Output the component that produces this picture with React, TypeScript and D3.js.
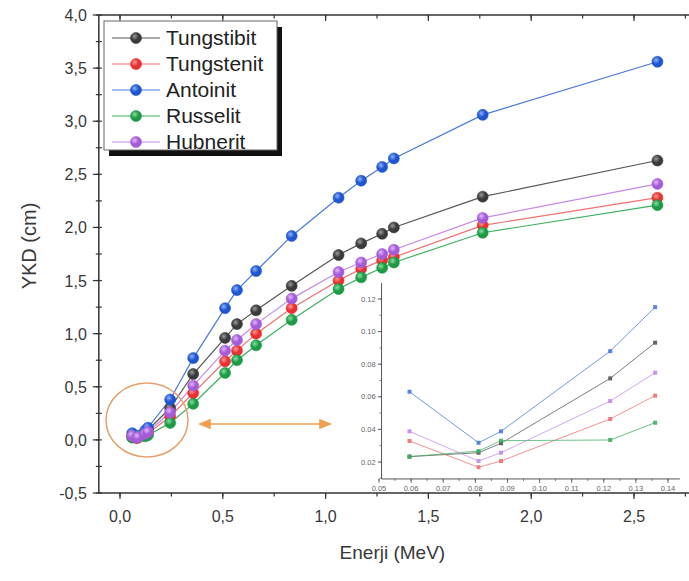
import React from 'react'
import { scaleLinear, line, range } from 'd3'

// gamma energies (MeV) of the measured points
const energies = [0.0595, 0.081, 0.088, 0.122, 0.136, 0.244, 0.356, 0.511, 0.569, 0.662, 0.835, 1.063, 1.173, 1.275, 1.332, 1.764, 2.614]

// YKD (cm) per mineral
const tungstibit = [0.0233, 0.0257, 0.0315, 0.0713, 0.0932, 0.30, 0.62, 0.96, 1.09, 1.22, 1.45, 1.74, 1.85, 1.94, 2.00, 2.29, 2.63]
const tungstenit = [0.0329, 0.0168, 0.0206, 0.0464, 0.0607, 0.22, 0.44, 0.74, 0.84, 1.00, 1.24, 1.50, 1.61, 1.69, 1.72, 2.02, 2.28]
const antoinit = [0.0631, 0.0318, 0.0388, 0.088, 0.115, 0.38, 0.77, 1.24, 1.41, 1.59, 1.92, 2.28, 2.44, 2.57, 2.65, 3.06, 3.56]
const russelit = [0.0233, 0.0267, 0.0331, 0.0335, 0.0441, 0.16, 0.34, 0.63, 0.75, 0.89, 1.13, 1.42, 1.53, 1.62, 1.67, 1.95, 2.21]
const hubnerit = [0.0388, 0.0206, 0.0257, 0.0574, 0.0748, 0.26, 0.51, 0.84, 0.94, 1.09, 1.33, 1.58, 1.67, 1.75, 1.79, 2.09, 2.41]

const xTicks = [0, 0.5, 1.0, 1.5, 2.0, 2.5]
const yTicks = [-0.5, 0, 0.5, 1.0, 1.5, 2.0, 2.5, 3.0, 3.5, 4.0]
const insetXTicks = [0.05, 0.06, 0.07, 0.08, 0.09, 0.10, 0.11, 0.12, 0.13, 0.14]
const insetYTicks = [0.02, 0.04, 0.06, 0.08, 0.10, 0.12]
const insetCount = 5

const series = [
  { name: 'Tungstibit', values: tungstibit, fill: '#3a3a3a', light: '#9a9a9a', stroke: '#555555' },
  { name: 'Tungstenit', values: tungstenit, fill: '#e8302f', light: '#ff9a9a', stroke: '#f07070' },
  { name: 'Antoinit', values: antoinit, fill: '#1f55d0', light: '#8fb0ff', stroke: '#4a78dc' },
  { name: 'Russelit', values: russelit, fill: '#1d9a45', light: '#86e0a0', stroke: '#3fb060' },
  { name: 'Hubnerit', values: hubnerit, fill: '#a55ad8', light: '#e2b8ff', stroke: '#c58ae8' },
]

const fmt = (v: number, d: number) => v.toFixed(d).replace('.', ',')

export default function App() {
  const W = 689, H = 581
  const x = scaleLinear().domain([0, 2.5]).range([120, 634])
  const y = scaleLinear().domain([-0.5, 4.0]).range([493, 15])
  const left = x(-0.103), right = 689, top = y(4.0), bottom = y(-0.5)

  const xi = scaleLinear().domain([0.05, 0.14]).range([379, 668])
  const yi = scaleLinear().domain([0.02, 0.12]).range([462, 299])
  const iLeft = xi(0.0508), iRight = xi(0.1437), iTop = yi(0.1298), iBottom = yi(0.0096)

  const mainLine = line<number>().x((_, i) => x(energies[i])).y(d => y(d))
  const insetLine = line<number>().x((_, i) => xi(energies[i])).y(d => yi(d))

  const font = 'Liberation Sans, Arial, sans-serif'
  const minorX = range(-0.0, 2.76, 0.25)
  const minorY = range(-0.5, 4.01, 0.25)
  const insetMinorX = range(0.05, 0.1438, 0.005)
  const insetMinorY = range(0.01, 0.13, 0.01)

  const legendRows = [38, 64, 90, 116, 142]

  return (
    <svg width={W} height={H} style={{ position: 'absolute', left: 0, top: 0, background: '#fff' }}>
      <defs>
        {series.map((s, i) => (
          <radialGradient key={i} id={`g${i}`} cx="38%" cy="35%" r="65%">
            <stop offset="0%" stopColor={s.light} />
            <stop offset="55%" stopColor={s.fill} />
            <stop offset="100%" stopColor={s.fill} />
          </radialGradient>
        ))}
      </defs>

      {/* main axes frame */}
      <g stroke="#333" strokeWidth={1.5} fill="none">
        <line x1={left} x2={left} y1={top} y2={bottom} />
        <line x1={left} x2={right} y1={bottom} y2={bottom} />
        <line x1={left} x2={right} y1={top} y2={top} />
      </g>
      <g stroke="#333" strokeWidth={1.2}>
        {xTicks.map(t => (
          <g key={t}>
            <line x1={x(t)} x2={x(t)} y1={bottom} y2={bottom + 6} />
            <line x1={x(t)} x2={x(t)} y1={top} y2={top + 6} />
          </g>
        ))}
        {minorX.map(t => (
          <g key={'m' + t}>
            <line x1={x(t)} x2={x(t)} y1={bottom} y2={bottom + 3.5} />
            <line x1={x(t)} x2={x(t)} y1={top} y2={top + 3.5} />
          </g>
        ))}
        {yTicks.map(t => (
          <line key={t} x1={left - 6} x2={left} y1={y(t)} y2={y(t)} />
        ))}
        {minorY.map(t => (
          <line key={'m' + t} x1={left - 3} x2={left + 3} y1={y(t)} y2={y(t)} />
        ))}
      </g>
      <g fontFamily={font} fontSize={16} fill="#383838">
        {xTicks.map(t => (
          <text key={t} x={x(t)} y={bottom + 29} textAnchor="middle">{fmt(t, 1)}</text>
        ))}
        {yTicks.map(t => (
          <text key={t} x={left - 12} y={y(t) + 6} textAnchor="end">{fmt(t, 1)}</text>
        ))}
      </g>
      <text x={(left + 686) / 2} y={559} textAnchor="middle" fontFamily={font} fontSize={19} fill="#383838">Enerji (MeV)</text>
      <text transform={`translate(36, ${(top + bottom) / 2 - 8}) rotate(-90)`} textAnchor="middle" fontFamily={font} fontSize={20} fill="#383838">YKD (cm)</text>

      {/* main series */}
      {series.map((s, i) => (
        <path key={i} d={mainLine(s.values) || ''} fill="none" stroke={s.stroke} strokeWidth={1.2} />
      ))}
      {series.map((s, i) => (
        <g key={i}>
          {s.values.map((v, j) => (
            <circle key={j} cx={x(energies[j])} cy={y(v)} r={5.5} fill={`url(#g${i})`} stroke={s.fill} strokeWidth={0.6} />
          ))}
        </g>
      ))}

      {/* highlight ellipse and arrow */}
      <ellipse cx={147} cy={420} rx={41} ry={37} fill="none" stroke="#e6a070" strokeWidth={1.5} />
      <g stroke="#f0a050" strokeWidth={1.6} fill="#f0a050">
        <line x1={204} x2={326} y1={424} y2={424} />
        <path d="M200,424 L210,420 L210,428 Z" />
        <path d="M330,424 L320,420 L320,428 Z" />
      </g>

      {/* inset */}
      <g stroke="#555" strokeWidth={1} fill="none">
        <line x1={iLeft} x2={iLeft} y1={iTop} y2={iBottom} />
        <line x1={iLeft} x2={iRight} y1={iBottom} y2={iBottom} />
      </g>
      <g stroke="#555" strokeWidth={0.8}>
        {insetXTicks.map(t => (
          <line key={t} x1={xi(t)} x2={xi(t)} y1={iBottom} y2={iBottom + 4} />
        ))}
        {insetMinorX.map(t => (
          <line key={'m' + t} x1={xi(t)} x2={xi(t)} y1={iBottom} y2={iBottom + 2} />
        ))}
        {insetYTicks.map(t => (
          <line key={t} x1={iLeft - 4} x2={iLeft} y1={yi(t)} y2={yi(t)} />
        ))}
        {insetMinorY.map(t => (
          <line key={'m' + t} x1={iLeft - 2} x2={iLeft} y1={yi(t)} y2={yi(t)} />
        ))}
      </g>
      <g fontFamily={font} fontSize={7.5} fill="#666">
        {insetXTicks.map(t => (
          <text key={t} x={xi(t)} y={iBottom + 12} textAnchor="middle">{t.toFixed(2)}</text>
        ))}
        {insetYTicks.map(t => (
          <text key={t} x={iLeft - 6} y={yi(t) + 2.5} textAnchor="end">{t.toFixed(2)}</text>
        ))}
      </g>
      {series.map((s, i) => (
        <path key={i} d={insetLine(s.values.slice(0, insetCount)) || ''} fill="none" stroke={s.stroke} strokeWidth={0.9} opacity={0.85} />
      ))}
      {series.map((s, i) => (
        <g key={i}>
          {s.values.slice(0, insetCount).map((v, j) => (
            <rect key={j} x={xi(energies[j]) - 2} y={yi(v) - 2} width={4} height={4} fill={s.stroke} opacity={0.9} />
          ))}
        </g>
      ))}

      {/* legend */}
      <rect x={109} y={27} width={173} height={129} fill="#111" />
      <rect x={104} y={21} width={173} height={129} fill="#fff" stroke="#666" strokeWidth={1} />
      {series.map((s, i) => (
        <g key={i}>
          <line x1={112} x2={160} y1={legendRows[i]} y2={legendRows[i]} stroke={s.stroke} strokeWidth={1.2} />
          <circle cx={136} cy={legendRows[i]} r={5.5} fill={`url(#g${i})`} stroke={s.fill} strokeWidth={0.6} />
          <text x={166} y={legendRows[i] + 7} fontFamily={font} fontSize={21} fill="#222">{s.name}</text>
        </g>
      ))}
    </svg>
  )
}
